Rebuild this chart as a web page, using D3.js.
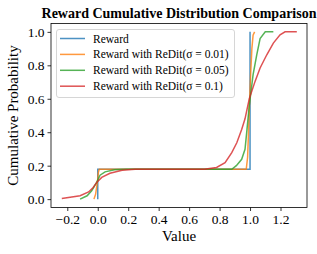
<!DOCTYPE html>
<html>
<head>
<meta charset="utf-8">
<script src="https://cdn.jsdelivr.net/npm/d3@7"></script>
<style>
  body { margin: 0; background: #fff; }
  text { font-family: "Liberation Serif", "Times New Roman", serif; }
</style>
</head>
<body>
<svg id="chart" width="317" height="254"></svg>
<script>
// series (x = reward value, p = cumulative probability)
var rewardX = [0, 0, 1.0, 1.0]
var rewardP = [0, 0.178, 0.178, 1.0]

var s001X = [-0.025, -0.014, -0.006, 0, 0.004, 0.01, 0.975, 0.984, 0.99, 0.996, 1.004, 1.012, 1.02, 1.03]
var s001P = [0, 0.03, 0.08, 0.12, 0.16, 0.178, 0.178, 0.25, 0.4, 0.56, 0.75, 0.9, 0.98, 1.0]

var s005X = [-0.116, -0.07, -0.04, -0.007, 0.015, 0.048, 0.11, 0.19, 0.88, 0.91, 0.945, 0.967, 0.98, 0.995, 1.02, 1.044, 1.066, 1.1, 1.153]
var s005P = [0, 0.02, 0.05, 0.1, 0.143, 0.163, 0.175, 0.178, 0.178, 0.2, 0.238, 0.298, 0.417, 0.56, 0.744, 0.863, 0.96, 1.0, 1.0]

var s01X = [-0.236, -0.116, -0.06, -0.03, -0.007, 0.026, 0.08, 0.16, 0.245, 0.7, 0.78, 0.836, 0.88, 0.913, 0.945, 0.967, 0.995, 1.033, 1.066, 1.11, 1.153, 1.197, 1.23, 1.307]
var s01P = [0.004, 0.02, 0.043, 0.07, 0.1, 0.13, 0.155, 0.173, 0.178, 0.178, 0.189, 0.218, 0.278, 0.337, 0.417, 0.48, 0.6, 0.704, 0.784, 0.863, 0.933, 0.982, 1.0, 1.0]

var seriesNames = ['Reward', 'Reward with ReDit(\u03c3 = 0.01)', 'Reward with ReDit(\u03c3 = 0.05)', 'Reward with ReDit(\u03c3 = 0.1)']
var seriesColors = ['#1f77b4', '#ff7f0e', '#2ca02c', '#d62728']
var xTicks = [-0.2, 0.0, 0.2, 0.4, 0.6, 0.8, 1.0, 1.2]
var yTicks = [0.0, 0.2, 0.4, 0.6, 0.8, 1.0]

var series = [[rewardX, rewardP], [s001X, s001P], [s005X, s005P], [s01X, s01P]]

var svg = d3.select('#chart')
var padL = 51, padR = 307, padT = 23.5, padB = 207.5

var x = d3.scaleLinear().domain([-0.307, 1.374]).range([padL, padR])
var y = d3.scaleLinear().domain([-0.05, 1.05]).range([padB, padT])

var plot = svg.append('g')

var line = d3.line()
    .x(function(d) { return x(d[0]) })
    .y(function(d) { return y(d[1]) })

series.forEach(function(s, i) {
    var pts = s[0].map(function(v, j) { return [v, s[1][j]] })
    plot.append('path')
        .datum(pts)
        .attr('d', line)
        .attr('fill', 'none')
        .attr('stroke', seriesColors[i])
        .attr('stroke-opacity', 0.8)
        .attr('stroke-width', 1.5)
})

// axes
var xAxis = svg.append('g')
    .attr('transform', 'translate(0,' + padB + ')')
    .call(d3.axisBottom(x).tickValues(xTicks).tickFormat(d3.format('.1f')).tickSizeOuter(0).tickSize(3.5).tickPadding(3))
var yAxis = svg.append('g')
    .attr('transform', 'translate(' + padL + ',0)')
    .call(d3.axisLeft(y).tickValues(yTicks).tickFormat(d3.format('.1f')).tickSizeOuter(0).tickSize(3.5).tickPadding(3))

svg.selectAll('.domain').remove()
svg.selectAll('.tick line').attr('stroke', '#000').attr('stroke-width', 0.8)
svg.selectAll('.tick text')
    .attr('fill', '#000')
    .style('font-family', '"Liberation Serif", serif')
    .style('font-size', '13.5px')
xAxis.selectAll('.tick text').text(function(d) { return d3.format('.1f')(d).replace('-', '\u2212') })

svg.append('rect')
    .attr('x', padL).attr('y', padT)
    .attr('width', padR - padL).attr('height', padB - padT)
    .attr('fill', 'none').attr('stroke', '#000').attr('stroke-width', 0.8)

// labels
svg.append('text')
    .attr('x', (padL + padR) / 2).attr('y', 18)
    .attr('text-anchor', 'middle')
    .style('font-size', '14px').style('font-weight', 'bold')
    .text('Reward Cumulative Distribution Comparison')

svg.append('text')
    .attr('x', (padL + padR) / 2).attr('y', 241)
    .attr('text-anchor', 'middle')
    .style('font-size', '15px')
    .text('Value')

svg.append('text')
    .attr('transform', 'translate(18,' + ((padT + padB) / 2) + ') rotate(-90)')
    .attr('text-anchor', 'middle')
    .style('font-size', '15px')
    .text('Cumulative Probability')

// legend
var legend = svg.append('g')
legend.append('rect')
    .attr('x', 56.5).attr('y', 29.5)
    .attr('width', 178).attr('height', 68)
    .attr('rx', 2.5)
    .attr('fill', '#fff').attr('fill-opacity', 0.8)
    .attr('stroke', '#ccc').attr('stroke-width', 0.8)

seriesNames.forEach(function(name, i) {
    var ly = 38.5 + i * 15.9
    legend.append('line')
        .attr('x1', 60).attr('x2', 85)
        .attr('y1', ly).attr('y2', ly)
        .attr('stroke', seriesColors[i])
        .attr('stroke-opacity', 0.8)
        .attr('stroke-width', 1.5)
    legend.append('text')
        .attr('x', 93).attr('y', ly + 4)
        .style('font-size', '11.5px')
        .text(name)
})
</script>
</body>
</html>
